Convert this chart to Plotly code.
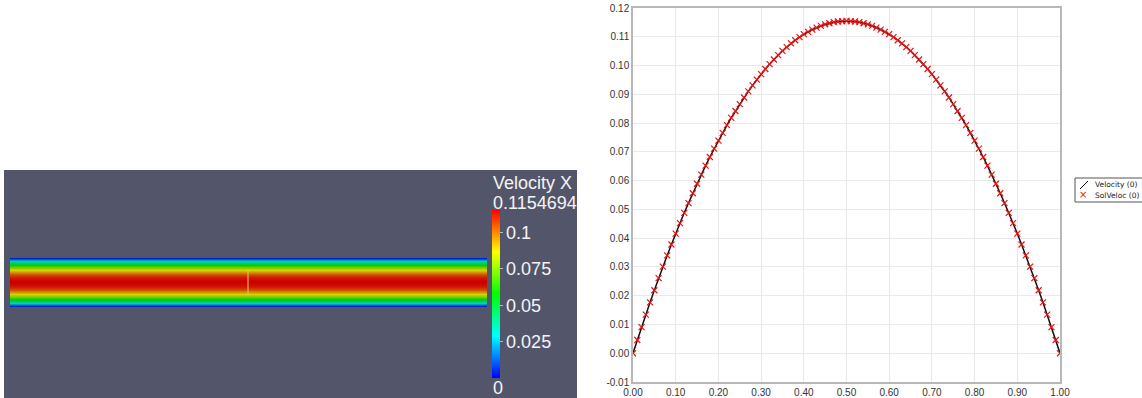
import plotly.graph_objects as go

W, H = 1142, 398

# ---- data ----
x_pos = [0.00, 0.01, 0.02, 0.03, 0.04, 0.05, 0.06, 0.07, 0.08, 0.09,
         0.10, 0.11, 0.12, 0.13, 0.14, 0.15, 0.16, 0.17, 0.18, 0.19,
         0.20, 0.21, 0.22, 0.23, 0.24, 0.25, 0.26, 0.27, 0.28, 0.29,
         0.30, 0.31, 0.32, 0.33, 0.34, 0.35, 0.36, 0.37, 0.38, 0.39,
         0.40, 0.41, 0.42, 0.43, 0.44, 0.45, 0.46, 0.47, 0.48, 0.49,
         0.50,
         0.51, 0.52, 0.53, 0.54, 0.55, 0.56, 0.57, 0.58, 0.59, 0.60,
         0.61, 0.62, 0.63, 0.64, 0.65, 0.66, 0.67, 0.68, 0.69, 0.70,
         0.71, 0.72, 0.73, 0.74, 0.75, 0.76, 0.77, 0.78, 0.79, 0.80,
         0.81, 0.82, 0.83, 0.84, 0.85, 0.86, 0.87, 0.88, 0.89, 0.90,
         0.91, 0.92, 0.93, 0.94, 0.95, 0.96, 0.97, 0.98, 0.99, 1.00]

velocity = [0.0000, 0.0046, 0.0091, 0.0134, 0.0177, 0.0219, 0.0261, 0.0301, 0.0340, 0.0378,
            0.0416, 0.0452, 0.0488, 0.0522, 0.0556, 0.0589, 0.0621, 0.0652, 0.0682, 0.0711,
            0.0739, 0.0766, 0.0793, 0.0818, 0.0842, 0.0866, 0.0889, 0.0910, 0.0931, 0.0951,
            0.0970, 0.0988, 0.1005, 0.1021, 0.1036, 0.1051, 0.1064, 0.1077, 0.1088, 0.1099,
            0.1109, 0.1117, 0.1125, 0.1132, 0.1138, 0.1143, 0.1147, 0.1151, 0.1153, 0.1154,
            0.1155,
            0.1154, 0.1153, 0.1151, 0.1147, 0.1143, 0.1138, 0.1132, 0.1125, 0.1117, 0.1109,
            0.1099, 0.1088, 0.1077, 0.1064, 0.1051, 0.1036, 0.1021, 0.1005, 0.0988, 0.0970,
            0.0951, 0.0931, 0.0910, 0.0889, 0.0866, 0.0842, 0.0818, 0.0793, 0.0766, 0.0739,
            0.0711, 0.0682, 0.0652, 0.0621, 0.0589, 0.0556, 0.0522, 0.0488, 0.0452, 0.0416,
            0.0378, 0.0340, 0.0301, 0.0261, 0.0219, 0.0177, 0.0134, 0.0091, 0.0046, 0.0000]

sol_veloc = [0.0000, 0.0046, 0.0091, 0.0134, 0.0177, 0.0219, 0.0261, 0.0301, 0.0340, 0.0378,
             0.0416, 0.0452, 0.0488, 0.0522, 0.0556, 0.0589, 0.0621, 0.0652, 0.0682, 0.0711,
             0.0739, 0.0766, 0.0793, 0.0818, 0.0842, 0.0866, 0.0889, 0.0910, 0.0931, 0.0951,
             0.0970, 0.0988, 0.1005, 0.1021, 0.1036, 0.1051, 0.1064, 0.1077, 0.1088, 0.1099,
             0.1109, 0.1117, 0.1125, 0.1132, 0.1138, 0.1143, 0.1147, 0.1151, 0.1153, 0.1154,
             0.1155,
             0.1154, 0.1153, 0.1151, 0.1147, 0.1143, 0.1138, 0.1132, 0.1125, 0.1117, 0.1109,
             0.1099, 0.1088, 0.1077, 0.1064, 0.1051, 0.1036, 0.1021, 0.1005, 0.0988, 0.0970,
             0.0951, 0.0931, 0.0910, 0.0889, 0.0866, 0.0842, 0.0818, 0.0793, 0.0766, 0.0739,
             0.0711, 0.0682, 0.0652, 0.0621, 0.0589, 0.0556, 0.0522, 0.0488, 0.0452, 0.0416,
             0.0378, 0.0340, 0.0301, 0.0261, 0.0219, 0.0177, 0.0134, 0.0091, 0.0046, 0.0000]

series_names = ["Velocity (0)", "SolVeloc (0)"]
v_min = 0.0
v_max = 0.1154694
cbar_tickvals = [0.025, 0.05, 0.075, 0.1]
cbar_ticktext = ["0.025", "0.05", "0.075", "0.1"]
x_tickvals = [0.0, 0.1, 0.2, 0.3, 0.4, 0.5, 0.6, 0.7, 0.8, 0.9, 1.0]
x_ticktext = ["0.00", "0.10", "0.20", "0.30", "0.40", "0.50", "0.60", "0.70", "0.80", "0.90", "1.00"]
y_tickvals = [-0.01, 0.0, 0.01, 0.02, 0.03, 0.04, 0.05, 0.06, 0.07, 0.08, 0.09, 0.10, 0.11, 0.12]
y_ticktext = ["-0.01", "0.00", "0.01", "0.02", "0.03", "0.04", "0.05", "0.06",
              "0.07", "0.08", "0.09", "0.10", "0.11", "0.12"]

# ---- styles ----
bright_scale = [[0.0, "rgb(0,0,255)"], [0.25, "rgb(0,255,255)"], [0.5, "rgb(0,255,0)"],
                [0.75, "rgb(255,255,0)"], [1.0, "rgb(255,0,0)"]]
lit_scale = [[0.0, "rgb(0,0,190)"], [0.25, "rgb(0,205,205)"], [0.5, "rgb(0,205,0)"],
             [0.75, "rgb(215,210,0)"], [1.0, "rgb(205,0,0)"]]
LINE_COLOR = "#111111"
MARK_COLOR = "#ee1111"


def px_x(p):
    return p / W


def px_y(p):
    return 1 - p / H


fig = go.Figure()

# channel heatmap (left panel)
fig.add_trace(go.Heatmap(
    x=[0.25, 0.75], y=x_pos, z=[[v, v] for v in velocity],
    zmin=v_min, zmax=v_max, colorscale=lit_scale, showscale=False,
    xaxis="x2", yaxis="y2", hoverinfo="skip"))

# colour bar carrier
fig.add_trace(go.Scatter(
    x=[5, 6], y=[5, 6], mode="markers", xaxis="x2", yaxis="y2", showlegend=False,
    hoverinfo="skip",
    marker=dict(color=[v_min, v_max], cmin=v_min, cmax=v_max, colorscale=bright_scale,
                size=1, showscale=True,
                colorbar=dict(
                    x=px_x(492), xanchor="left", xpad=0, ypad=0,
                    y=px_y(294), yanchor="middle",
                    lenmode="pixels", len=168, thicknessmode="pixels", thickness=8,
                    outlinewidth=0, tickvals=cbar_tickvals, ticktext=cbar_ticktext,
                    ticks="outside", ticklen=3, tickcolor="#b8b8c0",
                    tickfont=dict(family="Liberation Sans, Arial", size=18, color="#f4f4f4"),
                ))))

# line chart (right panel)
fig.add_trace(go.Scatter(
    x=x_pos, y=velocity, mode="lines", name=series_names[0], showlegend=False,
    line=dict(color=LINE_COLOR, width=1.5)))
fig.add_trace(go.Scatter(
    x=x_pos, y=sol_veloc, mode="markers", name=series_names[1], showlegend=False,
    marker=dict(symbol="x-thin", size=6, line=dict(color=MARK_COLOR, width=1.2),
                color=MARK_COLOR)))

axis_font = dict(family="Liberation Sans, Arial", size=10, color="#333333")
white_font = dict(family="Liberation Sans, Arial", size=18, color="#f4f4f4")
legend_font = dict(family="DejaVu Sans", size=7.5, color="#222222")

fig.update_layout(
    width=W, height=H, margin=dict(l=0, r=0, t=0, b=0, autoexpand=False),
    paper_bgcolor="white", plot_bgcolor="white",
    showlegend=False,
    xaxis=dict(domain=[px_x(633), px_x(1060)], range=[0, 1],
               tickvals=x_tickvals, ticktext=x_ticktext, tickfont=axis_font,
               showgrid=True, gridcolor="#e9e9e9", gridwidth=1,
               showline=True, linecolor="#b8b8b8", linewidth=1.5, mirror=True,
               zeroline=False, ticks=""),
    yaxis=dict(domain=[px_y(382), px_y(8)], range=[-0.01, 0.12],
               tickvals=y_tickvals, ticktext=y_ticktext, tickfont=axis_font,
               showgrid=True, gridcolor="#e9e9e9", gridwidth=1,
               showline=True, linecolor="#b8b8b8", linewidth=1.5, mirror=True,
               zeroline=False, ticks=""),
    xaxis2=dict(domain=[px_x(10), px_x(487)], range=[0, 1], visible=False, fixedrange=True),
    yaxis2=dict(domain=[px_y(307), px_y(258)], range=[-0.005, 1.005], visible=False,
                fixedrange=True),
    shapes=[
        dict(type="rect", xref="paper", yref="paper", x0=px_x(4), x1=px_x(577),
             y0=0, y1=px_y(170), fillcolor="#53566b", line=dict(width=0), layer="below"),
        dict(type="line", xref="x2", yref="y2", x0=0.499, x1=0.499, y0=0.25, y1=0.75,
             line=dict(color="#e6c86a", width=1)),
        # legend box and line symbol
        dict(type="rect", xref="paper", yref="paper", x0=px_x(1075), x1=px_x(1160),
             y0=px_y(202), y1=px_y(178), fillcolor="white",
             line=dict(color="#555555", width=1)),
        dict(type="line", xref="paper", yref="paper", x0=px_x(1080), x1=px_x(1088),
             y0=px_y(189), y1=px_y(181), line=dict(color=LINE_COLOR, width=1)),
    ],
    annotations=[
        dict(text="Velocity X", xref="paper", yref="paper", x=px_x(491), y=px_y(183),
             xanchor="left", yanchor="middle", showarrow=False, font=white_font),
        dict(text=f"{v_max:.7f}", xref="paper", yref="paper", x=px_x(491), y=px_y(203),
             xanchor="left", yanchor="middle", showarrow=False, font=white_font),
        dict(text=f"{v_min:g}", xref="paper", yref="paper", x=px_x(491), y=px_y(388),
             xanchor="left", yanchor="middle", showarrow=False, font=white_font),
        # legend entries
        dict(text=series_names[0], xref="paper", yref="paper", x=px_x(1093), y=px_y(185),
             xanchor="left", yanchor="middle", showarrow=False, font=legend_font),
        dict(text="×", xref="paper", yref="paper", x=px_x(1083), y=px_y(195),
             xanchor="center", yanchor="middle", showarrow=False,
             font=dict(family="DejaVu Sans", size=10, color=MARK_COLOR)),
        dict(text=series_names[1], xref="paper", yref="paper", x=px_x(1093), y=px_y(195.5),
             xanchor="left", yanchor="middle", showarrow=False, font=legend_font),
    ],
)

fig.write_html("out.html")
